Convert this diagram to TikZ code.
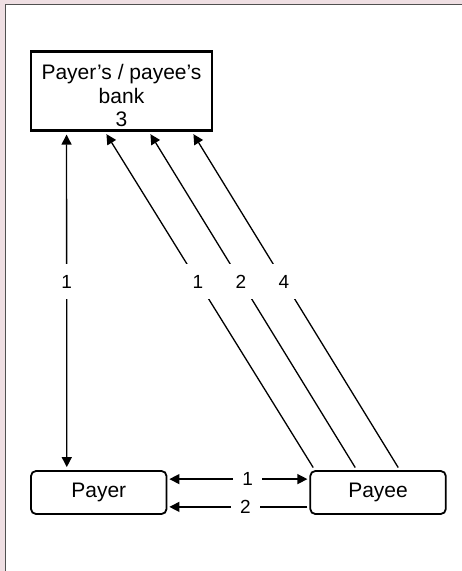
\documentclass[tikz,border=0pt]{standalone}
\usepackage{fontspec}
\setmainfont{Liberation Sans}
\usetikzlibrary{arrows.meta, positioning}

\definecolor{framepink}{RGB}{239,223,227}
\definecolor{framegrey}{RGB}{80,80,80}

\begin{document}
\begin{tikzpicture}[
    x=1pt, y=-1pt,
    box/.style={rectangle, draw, line width=1.8pt, rounded corners=5pt, minimum width=135.5pt, minimum height=43pt, align=center, font=\fontsize{21}{23.5}\selectfont},
    bankbox/.style={box, rounded corners=0pt, line width=2.3pt, minimum width=181pt, minimum height=78pt, text height=72pt},
    flow/.style={line width=1.3pt, shorten <=3pt, shorten >=3pt},
    lbl/.style={fill=white, inner xsep=9pt, inner ysep=11pt, font=\fontsize{19}{21}\selectfont}
]
    % frame
    \useasboundingbox (0,0) rectangle (462,571);
    \fill[framepink] (0,0) rectangle (462,571);
    \fill[white] (5.5,4.5) rectangle (462,571);
    \draw[framegrey, line width=1.6pt] (5.5,571) -- (5.5,4.5) -- (462,4.5);

    \node[bankbox] (bank) at (121.5,91) {Payer’s / payee’s\\bank\\3};
    \node[box] (payer) at (98.75,492.5) {Payer};
    \node[box, right=142pt of payer] (payee) {Payee};

    \draw[flow, {Triangle[length=10pt,width=10pt]}-{Triangle[length=10pt,width=10pt]}] ([xshift=36.7pt]bank.south west) -- node[lbl, pos=0.443] {1} ([xshift=36.7pt]payer.north west);
    \draw[flow, -{Triangle[length=10pt,width=10pt]}] ([xshift=5.4pt]payee.north west) -- node[lbl, pos=0.557] {1} ([xshift=75pt]bank.south west);
    \draw[flow, -{Triangle[length=10pt,width=10pt]}] ([xshift=47.4pt]payee.north west) -- node[lbl, pos=0.557] {2} ([xshift=119pt]bank.south west);
    \draw[flow, -{Triangle[length=10pt,width=10pt]}] ([xshift=90.4pt]payee.north west) -- node[lbl, pos=0.557] {4} ([xshift=162pt]bank.south west);

    \draw[flow, shorten <=2pt, shorten >=2pt, {Triangle[length=10pt,width=10pt]}-{Triangle[length=10pt,width=10pt]}] ([yshift=-9pt]payer.north east) -- node[lbl, inner ysep=3pt, pos=0.565] {1} ([yshift=-9pt]payee.north west);
    \draw[flow, shorten <=2pt, shorten >=2pt, -{Triangle[length=10pt,width=10pt]}] ([yshift=8pt]payee.south west) -- node[lbl, inner ysep=3pt, pos=0.45] {2} ([yshift=8pt]payer.south east);
\end{tikzpicture}
\end{document}
